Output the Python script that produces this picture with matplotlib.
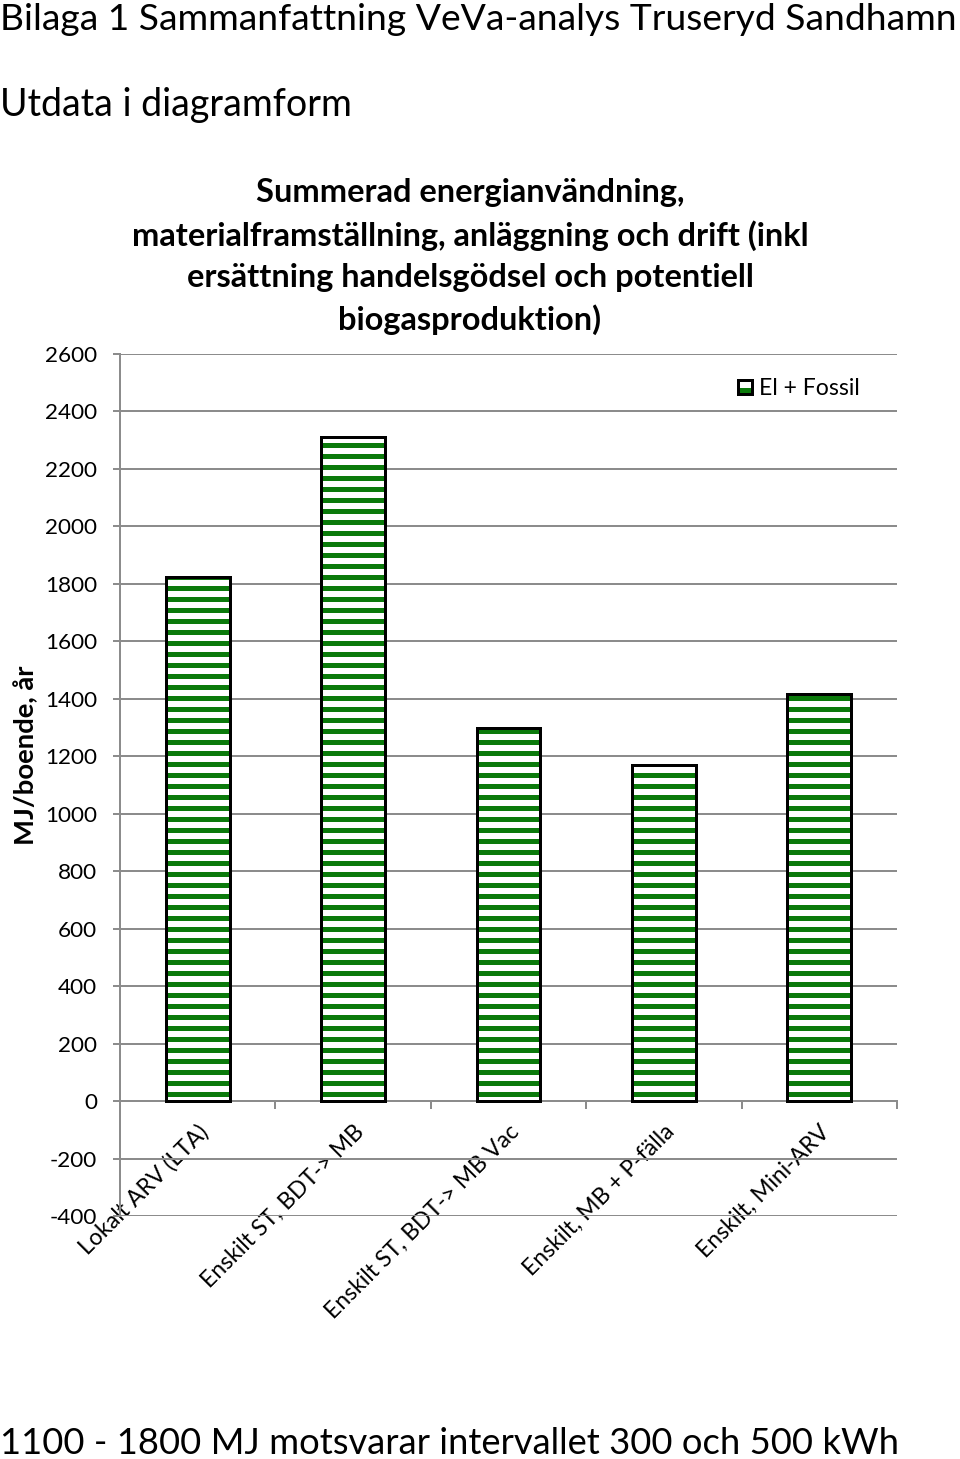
import numpy as np
import matplotlib.pyplot as plt
from matplotlib.legend_handler import HandlerTuple

categories = ['Lokalt ARV (LTA)', 'Enskilt ST, BDT-> MB', 'Enskilt ST, BDT-> MB Vac',
              'Enskilt, MB + P-fälla', 'Enskilt, Mini-ARV']
el_fossil = [1825, 2310, 1300, 1170, 1415]
y_ticks = list(range(-400, 2601, 200))

DPI = 66
PT = 72 / DPI  # pixels -> points

plt.rcParams['font.family'] = ['Lato', 'DejaVu Sans']
plt.rcParams['hatch.linewidth'] = 5 * PT
plt.rcParams['hatch.color'] = '#0b7a0b'

fig = plt.figure(figsize=(960 / DPI, 1459 / DPI), dpi=DPI)
ax = fig.add_axes([120 / 960, 1 - 1216 / 1459, 777 / 960, (1216 - 354) / 1459])

x = np.arange(len(categories))
green = '#0b7a0b'
stripes = ax.bar(x, el_fossil, width=0.41, color='white', edgecolor=green,
                 hatch='-', linewidth=0, zorder=3)
border = ax.bar(x, el_fossil, width=0.41, fill=False, edgecolor='black',
                linewidth=3 * PT, zorder=4)

ax.set_xlim(-0.5, len(categories) - 0.5)
ax.set_ylim(-400, 2600)
ax.set_yticks(y_ticks)
ax.set_yticklabels([str(v) for v in y_ticks], fontsize=22.5 * PT)
ax.yaxis.grid(True, color='#8c8c8c', linewidth=2 * PT, zorder=0)
ax.set_axisbelow(True)
ax.tick_params(axis='y', length=8, width=2 * PT, color='#8c8c8c', pad=17)

for s in ['top', 'right']:
    ax.spines[s].set_visible(False)
ax.spines['left'].set_color('#8c8c8c')
ax.spines['left'].set_linewidth(2 * PT)
ax.spines['bottom'].set_position(('data', 0))
ax.spines['bottom'].set_color('#8c8c8c')
ax.spines['bottom'].set_linewidth(2 * PT)

ax.set_xticks(x)
ax.set_xticklabels(categories, rotation=45, ha='right', va='top',
                   rotation_mode='anchor', fontsize=23 * PT)
ax.tick_params(axis='x', length=0, pad=22)
ax.set_xticks(np.arange(len(categories) + 1) - 0.5, minor=True)
ax.tick_params(axis='x', which='minor', length=9, width=2 * PT, color='#8c8c8c')

ax.set_ylabel('MJ/boende, år', fontsize=27.5 * PT, fontweight='bold')
ax.yaxis.set_label_coords((38 - 120) / 777, (1216 - 755) / 862)

ax.legend([(stripes[0], border[0])], ['El + Fossil'],
          handler_map={tuple: HandlerTuple(ndivide=1, pad=0)},
          loc='upper right', bbox_to_anchor=((860 - 120) / 777, 0.972),
          frameon=False, fontsize=23 * PT, handlelength=0.62, handleheight=0.62,
          handletextpad=0.3, borderaxespad=0, borderpad=0)

fig.text(470 / 960, 1 - 178 / 1459,
         'Summerad energianvändning,\nmaterialframställning, anläggning och drift (inkl\n'
         'ersättning handelsgödsel och potentiell\nbiogasproduktion)',
         fontsize=32.5 * PT, fontweight='bold', linespacing=1.5,
         ha='center', va='top', multialignment='center')

fig.text(0, 1 - 20 / 1459, 'Bilaga 1 Sammanfattning VeVa-analys Truseryd Sandhamn',
         fontsize=37.3 * PT, ha='left', va='center')
fig.text(0, 1 - 105 / 1459, 'Utdata i diagramform', fontsize=37.5 * PT, ha='left', va='center')
fig.text(0, 1 - 1443 / 1459, '1100 - 1800 MJ motsvarar intervallet 300 och 500 kWh',
         fontsize=36.4 * PT, ha='left', va='center')

fig.savefig('out.png', dpi=DPI)
